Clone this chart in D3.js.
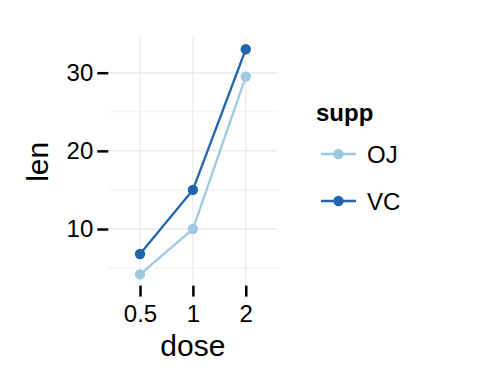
<!DOCTYPE html>
<html>
<head>
<meta charset="utf-8">
<script src="https://cdn.jsdelivr.net/npm/d3@7"></script>
<style>
  body { margin: 0; background: #fff; }
  svg { display: block; font-family: "Liberation Sans", Arial, sans-serif; }
</style>
</head>
<body>
<div id="container"></div>
<script>
// Data
const doses = ["0.5", "1", "2"];
const supps = ["OJ", "VC"];
const lenOJ = [4.2, 10, 29.5];
const lenVC = [6.8, 15, 33];
const yTicks = [10, 20, 30];
const yMinor = [5, 15, 25];
const colors = ["#9ECAE1", "#2166AC"];

const width = 480, height = 384;
const panel = { left: 108.3, right: 277.5, top: 38, bottom: 285.6 };

const series = supps.map((s, i) => ({
  supp: s,
  color: colors[i],
  values: doses.map((d, j) => ({ dose: d, len: (i === 0 ? lenOJ : lenVC)[j] }))
}));

const x = d3.scalePoint()
  .domain(doses)
  .range([panel.left, panel.right])
  .padding(0.6);

const y = d3.scaleLinear()
  .domain([2.76, 34.44])
  .range([panel.bottom, panel.top]);

const svg = d3.create("svg")
  .attr("width", width)
  .attr("height", height);

// minor grid
svg.append("g").selectAll("line")
  .data(yMinor)
  .join("line")
  .attr("x1", panel.left).attr("x2", panel.right)
  .attr("y1", d => y(d)).attr("y2", d => y(d))
  .attr("stroke", "#f5f5f5")
  .attr("stroke-width", 1.5);

// major grid
svg.append("g").selectAll("line")
  .data(yTicks)
  .join("line")
  .attr("x1", panel.left).attr("x2", panel.right)
  .attr("y1", d => y(d)).attr("y2", d => y(d))
  .attr("stroke", "#ebebeb")
  .attr("stroke-width", 1.5);

svg.append("g").selectAll("line")
  .data(doses)
  .join("line")
  .attr("x1", d => x(d)).attr("x2", d => x(d))
  .attr("y1", panel.top).attr("y2", panel.bottom)
  .attr("stroke", "#e6e6e6")
  .attr("stroke-width", 1);

// axes
const yAxis = svg.append("g")
  .attr("transform", `translate(${panel.left},0)`)
  .call(d3.axisLeft(y).tickValues(yTicks).tickSize(11).tickPadding(4));

const xAxis = svg.append("g")
  .attr("transform", `translate(0,${panel.bottom})`)
  .call(d3.axisBottom(x).tickSize(11).tickPadding(8));

[xAxis, yAxis].forEach(a => {
  a.select(".domain").remove();
  a.selectAll(".tick line").attr("stroke", "#000").attr("stroke-width", 2.5);
  a.selectAll(".tick text")
    .attr("fill", "#000")
    .style("font-size", "24px")
    .style("font-family", "'Liberation Sans', Arial, sans-serif");
});

// lines and points
const line = d3.line()
  .x(d => x(d.dose))
  .y(d => y(d.len));

const g = svg.append("g").selectAll("g")
  .data(series)
  .join("g");

g.append("path")
  .attr("d", d => line(d.values))
  .attr("fill", "none")
  .attr("stroke", d => d.color)
  .attr("stroke-width", 2.3);

g.selectAll("circle")
  .data(d => d.values.map(v => ({ ...v, color: d.color })))
  .join("circle")
  .attr("cx", d => x(d.dose))
  .attr("cy", d => y(d.len))
  .attr("r", 5.2)
  .attr("fill", d => d.color);

// axis titles
svg.append("text")
  .attr("x", (panel.left + panel.right) / 2)
  .attr("y", 356)
  .attr("text-anchor", "middle")
  .style("font-size", "30px")
  .text("dose");

svg.append("text")
  .attr("transform", `translate(48,${(panel.top + panel.bottom) / 2}) rotate(-90)`)
  .attr("text-anchor", "middle")
  .style("font-size", "30px")
  .text("len");

// legend
const legend = svg.append("g");
legend.append("text")
  .attr("x", 316)
  .attr("y", 121)
  .style("font-size", "24px")
  .style("font-weight", "bold")
  .text("supp");

const items = legend.selectAll(".item")
  .data(series)
  .join("g")
  .attr("class", "item")
  .attr("transform", (d, i) => `translate(0,${154 + i * 47})`);

items.append("line")
  .attr("x1", 321).attr("x2", 356)
  .attr("stroke", d => d.color)
  .attr("stroke-width", 2.3);

items.append("circle")
  .attr("cx", 338.5)
  .attr("r", 5.2)
  .attr("fill", d => d.color);

items.append("text")
  .attr("x", 367)
  .attr("dy", "0.36em")
  .style("font-size", "24px")
  .text(d => d.supp);

container.append(svg.node());
</script>
</body>
</html>
